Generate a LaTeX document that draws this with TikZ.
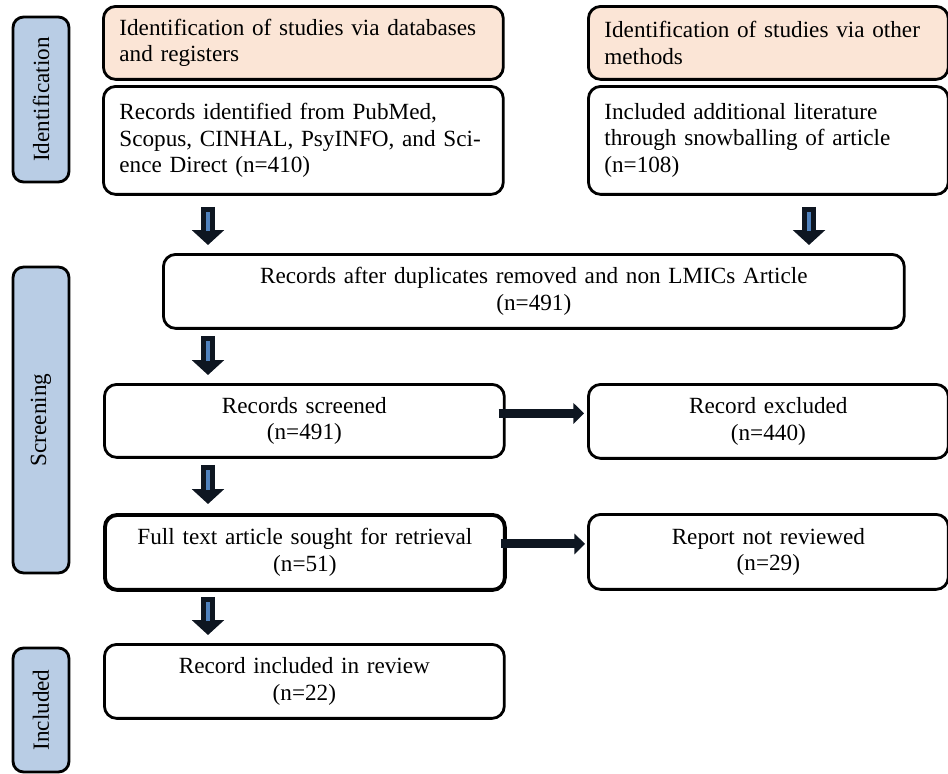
\documentclass[tikz,border=0pt]{standalone}
\usepackage{fontspec}
\setmainfont{Liberation Serif}
\usepackage{xcolor}
\usepackage{tikz}
\usetikzlibrary{positioning,calc,arrows.meta}

\definecolor{headfill}{RGB}{251,229,214}
\definecolor{phasefill}{RGB}{185,205,229}
\definecolor{arrowdark}{RGB}{14,22,33}
\definecolor{arrowblue}{RGB}{79,129,189}
\newcommand{\boxfont}{\fontsize{13.2}{15}\selectfont}

\tikzset{
  box/.style={draw, line width=1.6pt, rounded corners=7pt, fill=white, font=\boxfont, inner xsep=0.32cm, inner ysep=0pt, anchor=north west},
  leftbox/.style={box, text width=7.36cm, align=left},
  headbox/.style={leftbox, fill=headfill, minimum height=1.46cm},
  sidebox/.style={box, text width=6.56cm, align=left},
  midbox/.style={box, text width=7.36cm, align=center, minimum height=1.48cm},
  outbox/.style={box, text width=6.56cm, align=center, minimum height=1.48cm},
  phase/.style={draw, line width=1.6pt, rounded corners=6pt, fill=phasefill, font=\boxfont, rotate=90, minimum height=1.12cm, inner sep=0pt},
  vflow/.style={draw=arrowdark, line width=7.8pt, -{Triangle[width=18pt,length=8.5pt]},
    postaction={draw=arrowblue, line width=2.2pt, -, shorten <=3pt, shorten >=8pt}},
  hflow/.style={draw=arrowdark, line width=5.2pt, -{Triangle[width=11.5pt,length=6pt]}}
}

\begin{document}
\begin{tikzpicture}[x=0.02cm, y=-0.02cm]
  \useasboundingbox (0,0) rectangle (948,774);

  % phases
  \node[phase, minimum width=3.3cm] (phaseid) at (41,99.5) {Identification};
  \node[phase, minimum width=6.12cm] (phasescr) at (41,420) {Screening};
  \node[phase, minimum width=2.48cm] (phaseinc) at (41,710) {Included};

  % identification
  \node[headbox] (idhead) at (102,5) {Identification of studies via databases\\and registers};
  \node[headbox, text width=6.56cm] (othhead) at (587,5) {Identification of studies via other\\methods};
  \node[leftbox, minimum height=2.16cm] (idrec) at (102,85) {Records identified from PubMed,\\Scopus, CINHAL, PsyINFO, and Sci-\\ence Direct (n=410)};
  \node[sidebox, minimum height=2.16cm] (othrec) at (587,85) {Included additional literature\\through snowballing of article\\(n=108)};

  % screening
  \node[box, text width=14.18cm, align=center, minimum height=1.48cm] (dupl) at (162,253) {Records after duplicates removed and non LMICs Article\\(n=491)};
  \node[midbox, minimum height=1.46cm] (scr) at (103,383) {Records screened\\(n=491)};
  \node[outbox] (excl) at (587,383) {Record excluded\\(n=440)};
  \node[midbox, line width=2.2pt, minimum height=1.5cm] (full) at (103,513) {Full text article sought for retrieval\\(n=51)};
  \node[outbox, minimum height=1.5cm] (notrev) at (587,513) {Report not reviewed\\(n=29)};

  % included
  \node[midbox] (incl) at (103,643) {Record included in review\\(n=22)};

  \draw[vflow] ($(idrec.south west)+(106,11)$) -- ($(idrec.south west |- dupl.north)+(106,-8)$);
  \draw[vflow] ($(othrec.south west)+(222,11)$) -- ($(othrec.south west |- dupl.north)+(222,-8)$);
  \draw[vflow] ($(dupl.south -| scr.west)+(105,6)$) -- ($(scr.north west)+(105,-8)$);
  \draw[vflow] ($(scr.south west)+(105,6)$) -- ($(full.north west)+(105,-9)$);
  \draw[vflow] ($(full.south west)+(105,5)$) -- ($(incl.north west)+(105,-8)$);

  \draw[hflow] ($(scr.east)+(-7,-7.5)$) -- ($(excl.west |- scr.east)+(-3,-7.5)$);
  \draw[hflow] ($(full.east)+(-6,-8.5)$) -- ($(notrev.west |- full.east)+(-2,-8.5)$);
\end{tikzpicture}
\end{document}
